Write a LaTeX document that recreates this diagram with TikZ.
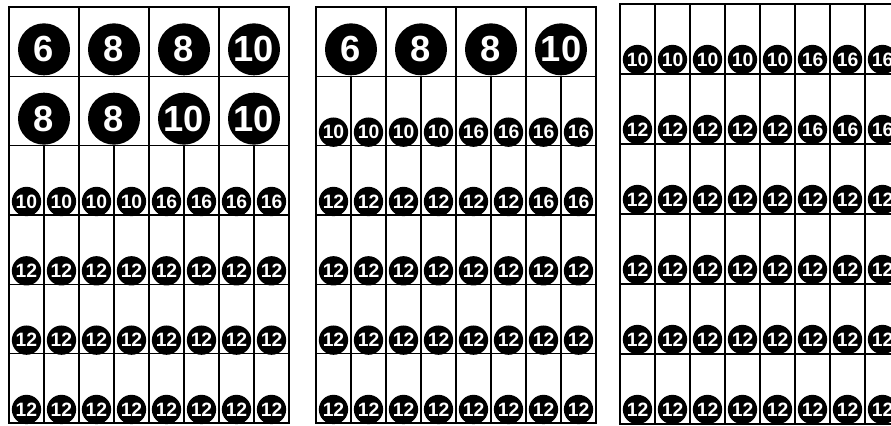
\documentclass[tikz,border=0pt]{standalone}
\usepackage{fontspec}
\usepackage{tikz}
\newfontfamily\kugelfont{Liberation Sans}
\tikzset{
  gitter/.style={black,line width=1.3pt},
  kugel/.style={circle,fill=black,text=white,inner sep=0pt,font=\kugelfont\bfseries},
  grosskugel/.style={kugel,minimum size=1.56cm,font=\kugelfont\bfseries\fontsize{31}{31}\selectfont},
  kleinkugel/.style={kugel,minimum size=0.88cm,font=\kugelfont\bfseries\fontsize{16.5}{16.5}\selectfont},
}

\begin{document}
\begin{tikzpicture}[x=0.03cm,y=-0.03cm]
  \useasboundingbox (0,0) rectangle (891,426);
  \clip (0,0) rectangle (891,426);
  \fill[white] (0,0) rectangle (891,426);
  \foreach \p/\xa/\ya/\h/\s in {a/9/7/69.33/2, b/316/7/69.33/1, c/620/4/70/0}{
    \draw[gitter] (\xa,\ya) rectangle ++(280,6*\h);
    \foreach \r in {1,...,5}
      \draw[gitter] (\xa,\ya+\r*\h) -- ++(280,0);
    \foreach \k in {70,140,210}
      \draw[gitter] (\xa+\k,\ya) -- ++(0,6*\h);
    \foreach \k in {35,105,175,245}
      \draw[gitter] (\xa+\k,\ya+\s*\h) -- (\xa+\k,\ya+6*\h);
  }
  \foreach \r/\liste in {1/{6,8,8,10}, 2/{8,8,10,10}}
    \foreach \n [count=\c] in \liste
      \node[grosskugel] (a\r-\c) at ({9+35+70*(\c-1)},{7+69.33*\r-27}) {\n};
  \foreach \r/\liste in {3/{10,10,10,10,16,16,16,16}, 4/{12,12,12,12,12,12,12,12},
      5/{12,12,12,12,12,12,12,12}, 6/{12,12,12,12,12,12,12,12}}
    \foreach \n [count=\c] in \liste
      \node[kleinkugel] (a\r-\c) at ({9+17.5+35*(\c-1)},{7+69.33*\r-13.5}) {\n};
  \foreach \n [count=\c] in {6,8,8,10}
    \node[grosskugel] (b1-\c) at ({316+35+70*(\c-1)},{7+69.33-27}) {\n};
  \foreach \r/\liste in {2/{10,10,10,10,16,16,16,16}, 3/{12,12,12,12,12,12,16,16},
      4/{12,12,12,12,12,12,12,12}, 5/{12,12,12,12,12,12,12,12}, 6/{12,12,12,12,12,12,12,12}}
    \foreach \n [count=\c] in \liste
      \node[kleinkugel] (b\r-\c) at ({316+17.5+35*(\c-1)},{7+69.33*\r-13.5}) {\n};
  \foreach \r/\liste in {1/{10,10,10,10,10,16,16,16}, 2/{12,12,12,12,12,16,16,16},
      3/{12,12,12,12,12,12,12,12}, 4/{12,12,12,12,12,12,12,12},
      5/{12,12,12,12,12,12,12,12}, 6/{12,12,12,12,12,12,12,12}}
    \foreach \n [count=\c] in \liste
      \node[kleinkugel] (c\r-\c) at ({620+17.5+35*(\c-1)},{4+70*\r-14.5}) {\n};
\end{tikzpicture}
\end{document}
